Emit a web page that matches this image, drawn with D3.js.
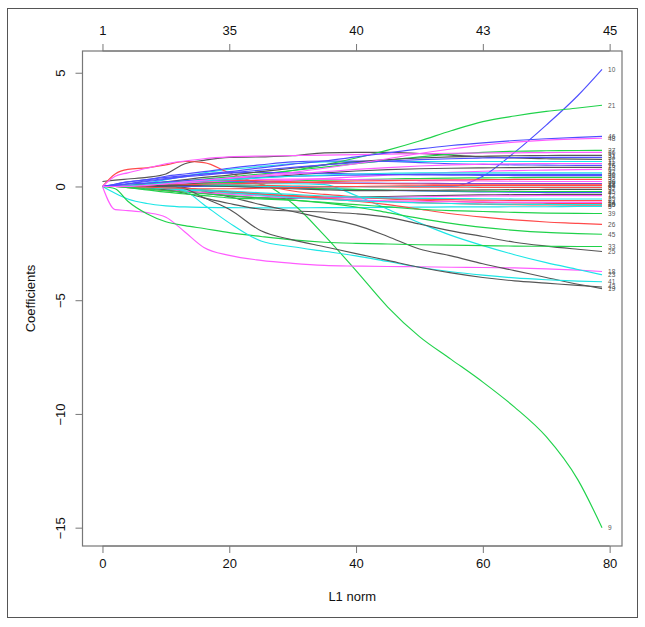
<!DOCTYPE html>
<html><head><meta charset="utf-8">
<script src="https://cdn.jsdelivr.net/npm/d3@7"></script>
<style>body{margin:0;background:#fff}svg{display:block}text{font-family:"Liberation Sans",Arial,sans-serif}</style>
</head><body>
<script>
// L1 norm grid (x) shared by all coefficient paths
const l1Norm = [0, 2, 4, 7, 10, 13, 16, 20, 25, 30, 35, 40, 45, 50, 55, 60, 65, 70, 75, 78.8];
// bottom / top axis ticks
const l1Ticks = [0, 20, 40, 60, 80];
const dfLabels = ["1", "35", "40", "43", "45"];
const yTicks = [-15, -10, -5, 0, 5];
// coefficient paths, variable k
const b1  = [0.22,0.28,0.33,0.4,0.55,1.0,1.15,1.28,1.3,1.35,1.48,1.5,1.5,1.45,1.38,1.3,1.25,1.22,1.2,1.19];
const b2  = [0,0,-0.05,-0.12,-0.18,-0.22,-0.26,-0.3,-0.35,-0.4,-0.45,-0.5,-0.53,-0.56,-0.58,-0.6,-0.61,-0.62,-0.62,-0.62];
const b3  = [0,0,0.02,0.06,0.1,0.12,0.15,0.18,0.22,0.25,0.28,0.3,0.33,0.35,0.37,0.38,0.39,0.4,0.4,0.4];
const b4  = [0,0,0.03,0.08,0.1,0.1,0.08,0.05,0,-0.05,-0.1,-0.14,-0.17,-0.2,-0.22,-0.24,-0.25,-0.26,-0.26,-0.26];
const b5  = [0,-0.3,-0.55,-0.75,-0.85,-0.9,-0.92,-0.93,-0.94,-0.94,-0.93,-0.93,-0.92,-0.91,-0.9,-0.9,-0.89,-0.89,-0.88,-0.88];
const b6  = [0,0,0,0.02,0.05,0.08,0.1,0.15,0.2,0.28,0.35,0.42,0.5,0.56,0.62,0.67,0.7,0.72,0.74,0.75];
const b7  = [0,0,0,-0.05,-0.12,-0.2,-0.3,-0.42,-0.5,-0.52,-0.5,-0.47,-0.44,-0.41,-0.39,-0.37,-0.36,-0.35,-0.35,-0.35];
const b8  = [0,0,0,0.05,0.08,0.1,0.1,0.08,0.05,0.02,0,-0.01,-0.02,-0.03,-0.03,-0.04,-0.04,-0.04,-0.04,-0.04];
const b9  = [0,0,0,0.03,0.08,0.12,0.15,0.18,0.1,-0.75,-2.15,-3.7,-5.3,-6.6,-7.6,-8.6,-9.7,-11.0,-12.9,-15];
const b10 = [0,0,0,0,0,0,0,0,0,0,0,0,0,0,0,0.45,1.5,2.7,4.0,5.15];
const b11 = [0,0,0.05,0.15,0.3,0.45,0.6,0.75,0.88,1.0,1.08,1.1,1.1,1.1,1.1,1.1,1.1,1.1,1.1,1.1];
const b12 = [0,0,0,-0.03,-0.08,-0.12,-0.18,-0.25,-0.35,-0.45,-0.5,-0.5,-0.48,-0.45,-0.43,-0.42,-0.41,-0.4,-0.4,-0.4];
const b13 = [0,0,0,0.02,0.05,0.1,0.18,0.28,0.4,0.5,0.6,0.68,0.74,0.78,0.8,0.82,0.83,0.84,0.84,0.84];
const b14 = [0,0.55,0.75,0.82,0.95,1.1,1.05,0.6,0.1,-0.2,-0.35,-0.45,-0.55,-0.6,-0.65,-0.7,-0.72,-0.74,-0.75,-0.75];
const b15 = [0,0,0,0,0.02,0.05,0.05,0.03,0,-0.05,-0.1,-0.13,-0.16,-0.18,-0.2,-0.21,-0.22,-0.22,-0.22,-0.22];
const b16 = [0,0.1,0.2,0.3,0.45,0.55,0.65,0.8,0.95,1.08,1.12,1.12,1.1,1.05,1.0,0.97,0.95,0.94,0.93,0.93];
const b17 = [0,0,0,0.02,0.05,0.05,0.04,0.02,0,-0.02,-0.02,-0.01,0,0.01,0.02,0.03,0.03,0.04,0.04,0.04];
const b18 = [0,-1.02,-1.06,-1.15,-1.35,-2.0,-2.68,-3.03,-3.25,-3.38,-3.47,-3.5,-3.52,-3.53,-3.55,-3.56,-3.58,-3.62,-3.68,-3.74];
const b19 = [0,0,0,0,0,-0.05,-0.2,-0.45,-0.8,-1.1,-1.4,-1.7,-2.2,-2.75,-3.05,-3.4,-3.7,-4.0,-4.3,-4.49];
const b20 = [0,0,0,-0.02,-0.06,-0.1,-0.15,-0.22,-0.32,-0.42,-0.52,-0.6,-0.66,-0.71,-0.75,-0.78,-0.8,-0.81,-0.82,-0.82];
const b21 = [0,0,0,0.03,0.08,0.15,0.22,0.32,0.5,0.7,0.95,1.25,1.6,2.0,2.45,2.85,3.1,3.3,3.45,3.57];
const b22 = [0,0,0.02,0.08,0.15,0.2,0.22,0.22,0.2,0.18,0.16,0.15,0.14,0.14,0.13,0.13,0.13,0.13,0.13,0.13];
const b23 = [0,0,0,0,0.02,0.05,0.08,0.1,0.12,0.12,0.08,-0.4,-1.0,-1.6,-2.15,-2.6,-3.0,-3.35,-3.65,-3.88];
const b24 = [0,0,-0.02,-0.08,-0.15,-0.22,-0.28,-0.35,-0.42,-0.5,-0.56,-0.6,-0.63,-0.65,-0.67,-0.68,-0.69,-0.7,-0.7,-0.7];
const b25 = [0,0,0,-0.05,-0.15,-0.3,-0.5,-0.75,-1.0,-1.08,-1.12,-1.2,-1.35,-1.65,-1.95,-2.2,-2.45,-2.62,-2.76,-2.86];
const b26 = [0,0,0,-0.03,-0.08,-0.12,-0.18,-0.25,-0.35,-0.45,-0.55,-0.65,-0.8,-1.0,-1.2,-1.35,-1.47,-1.56,-1.62,-1.67];
const b27 = [0,0,0.03,0.1,0.18,0.25,0.32,0.42,0.55,0.7,0.85,1.0,1.15,1.3,1.42,1.5,1.55,1.57,1.58,1.59];
const b28 = [0,0.1,0.2,0.3,0.4,0.48,0.55,0.6,0.62,0.6,0.58,0.55,0.53,0.51,0.5,0.49,0.48,0.48,0.48,0.48];
const b29 = [0,0,0,-0.02,-0.05,-0.1,-0.15,-0.2,-0.28,-0.35,-0.42,-0.47,-0.5,-0.52,-0.53,-0.54,-0.55,-0.55,-0.55,-0.55];
const b30 = [0,0,0.02,0.06,0.1,0.15,0.2,0.25,0.3,0.32,0.32,0.3,0.28,0.26,0.25,0.24,0.23,0.22,0.22,0.22];
const b31 = [0,0,0.03,0.1,0.2,0.3,0.4,0.5,0.65,0.8,0.95,1.08,1.18,1.25,1.3,1.33,1.35,1.36,1.37,1.37];
const b32 = [0,0,0,0.02,0.05,0.08,0.1,0.12,0.15,0.18,0.21,0.24,0.26,0.28,0.29,0.3,0.31,0.31,0.31,0.31];
const b33 = [0,-0.1,-0.65,-1.2,-1.55,-1.72,-1.85,-2.03,-2.2,-2.35,-2.45,-2.5,-2.53,-2.56,-2.58,-2.6,-2.62,-2.63,-2.64,-2.64];
const b34 = [0,0.05,0.12,0.22,0.32,0.42,0.5,0.6,0.72,0.84,0.95,1.05,1.12,1.18,1.22,1.25,1.27,1.28,1.28,1.28];
const b35 = [0,0,0,-0.05,-0.1,-0.15,-0.2,-0.28,-0.38,-0.48,-0.56,-0.63,-0.68,-0.72,-0.75,-0.77,-0.78,-0.79,-0.8,-0.8];
const b36 = [0,0.45,0.6,0.8,1.0,1.12,1.22,1.3,1.34,1.36,1.38,1.4,1.42,1.44,1.46,1.47,1.48,1.49,1.5,1.5];
const b37 = [0,0,0,0.02,0.05,0.05,0.03,0,-0.05,-0.1,-0.15,-0.18,-0.18,-0.17,-0.16,-0.15,-0.14,-0.13,-0.13,-0.13];
const b38 = [0,0,0,0.05,0.12,0.2,0.25,0.28,0.25,0.2,0.16,0.13,0.12,0.11,0.1,0.1,0.1,0.1,0.1,0.1];
const b39 = [0,0,-0.03,-0.1,-0.18,-0.25,-0.32,-0.4,-0.5,-0.6,-0.7,-0.8,-0.9,-1.0,-1.06,-1.1,-1.14,-1.17,-1.18,-1.19];
const b40 = [0,0.05,0.1,0.15,0.2,0.25,0.3,0.35,0.4,0.45,0.48,0.5,0.52,0.53,0.53,0.53,0.53,0.53,0.53,0.53];
const b41 = [0,0,0,0,-0.05,-0.2,-0.8,-1.6,-2.4,-2.65,-2.85,-3.05,-3.3,-3.55,-3.75,-3.9,-4.02,-4.1,-4.16,-4.19];
const b42 = [0,0,0.02,0.06,0.12,0.18,0.25,0.35,0.45,0.55,0.65,0.75,0.83,0.9,0.95,0.98,1.0,1.01,1.01,1.01];
const b43 = [0,0,0,0,0,-0.1,-0.5,-1.0,-1.95,-2.35,-2.65,-2.95,-3.25,-3.55,-3.8,-4.0,-4.15,-4.25,-4.35,-4.42];
const b44 = [0,0,0,-0.03,-0.06,-0.08,-0.1,-0.1,-0.08,-0.05,-0.02,0,0.02,0.03,0.04,0.05,0.05,0.05,0.05,0.05];
const b45 = [0,0,-0.05,-0.15,-0.25,-0.33,-0.4,-0.5,-0.55,-0.6,-0.72,-0.9,-1.15,-1.4,-1.62,-1.8,-1.93,-2.02,-2.07,-2.1];
const b46 = [0,0.05,0.12,0.25,0.35,0.45,0.55,0.65,0.82,0.98,1.12,1.3,1.48,1.65,1.8,1.92,2.02,2.1,2.16,2.2];
const b47 = [0,0,0.02,0.08,0.15,0.2,0.25,0.3,0.38,0.45,0.5,0.55,0.58,0.6,0.6,0.6,0.6,0.6,0.6,0.6];
const b48 = [0,0,0,0.05,0.12,0.2,0.28,0.38,0.5,0.62,0.8,1.0,1.22,1.45,1.65,1.82,1.95,2.04,2.09,2.12];
const coefPaths = [b1,b2,b3,b4,b5,b6,b7,b8,b9,b10,b11,b12,b13,b14,b15,b16,b17,b18,b19,b20,b21,b22,b23,b24,
  b25,b26,b27,b28,b29,b30,b31,b32,b33,b34,b35,b36,b37,b38,b39,b40,b41,b42,b43,b44,b45,b46,b47,b48];
// R palette 1:6 (black, red, green3, blue, cyan, magenta) as rendered
const palette = ["#555555", "#ff4a4a", "#1fd24a", "#4f4fff", "#1ce6e6", "#ff5cff"];

const W = 645, H = 627;
const box = {l: 82.5, r: 622, t: 51, b: 546};
const svg = d3.select("body").append("svg").attr("width", W).attr("height", H);

svg.append("rect").attr("x", 7.5).attr("y", 8.5).attr("width", 630).attr("height", 609)
  .attr("fill", "none").attr("stroke", "#555").attr("stroke-width", 1);

const xMax = d3.max(l1Norm), xMin = d3.min(l1Norm);
const allY = coefPaths.flat();
const yMin = d3.min(allY), yMax = d3.max(allY);
const xPad = (xMax - xMin) * 0.04, yPad = (yMax - yMin) * 0.04;
const x = d3.scaleLinear().domain([xMin - xPad, xMax + xPad]).range([box.l, box.r]);
const y = d3.scaleLinear().domain([yMin - yPad, yMax + yPad]).range([box.b, box.t]);

const g = svg.append("g");
const line = d3.line().x((d, i) => x(l1Norm[i])).y(d => y(d)).curve(d3.curveMonotoneX);
coefPaths.forEach((p, k) => {
  g.append("path").attr("d", line(p)).attr("fill", "none")
    .attr("stroke", palette[k % 6]).attr("stroke-width", 1.15);
});
// variable labels at the right end
coefPaths.forEach((p, k) => {
  svg.append("text").attr("x", x(xMax) + 6).attr("y", y(p[p.length - 1]) + 2.3)
    .attr("font-size", 6.5).attr("fill", "#555").text(k + 1);
});

// box
svg.append("rect").attr("x", box.l).attr("y", box.t).attr("width", box.r - box.l).attr("height", box.b - box.t)
  .attr("fill", "none").attr("stroke", "#777").attr("stroke-width", 1.2);

const axStyle = sel => {
  sel.select(".domain").attr("stroke", "#777");
  sel.selectAll(".tick line").attr("stroke", "#777");
  sel.selectAll("text").attr("font-size", 13).attr("fill", "#111")
    .style("font-family", '"Liberation Sans", Arial, sans-serif');
};
const xb = svg.append("g").attr("transform", `translate(0,${box.b})`)
  .call(d3.axisBottom(x).tickValues(l1Ticks).tickSize(7).tickPadding(6).tickSizeOuter(0));
xb.select(".domain").attr("d", `M${x(l1Ticks[0])},0H${x(l1Ticks[l1Ticks.length-1])}`);
axStyle(xb);
const xt = svg.append("g").attr("transform", `translate(0,${box.t})`)
  .call(d3.axisTop(x).tickValues(l1Ticks).tickFormat((d, i) => dfLabels[i]).tickSize(7).tickPadding(9).tickSizeOuter(0));
xt.select(".domain").attr("d", `M${x(l1Ticks[0])},0H${x(l1Ticks[l1Ticks.length-1])}`);
axStyle(xt);
const yl = svg.append("g").attr("transform", `translate(${box.l},0)`)
  .call(d3.axisLeft(y).tickValues(yTicks).tickSize(7).tickSizeOuter(0));
yl.select(".domain").attr("d", `M0,${y(yTicks[0])}V${y(yTicks[yTicks.length-1])}`);
axStyle(yl);
yl.selectAll(".tick text").attr("x", null).attr("dy", null).attr("text-anchor", "middle")
  .attr("transform", "translate(-22,0) rotate(-90)").attr("dy", "0.35em");

svg.append("text").attr("x", (box.l + box.r) / 2).attr("y", 601).attr("text-anchor", "middle")
  .attr("font-size", 13).attr("fill", "#111").text("L1 norm");
svg.append("text").attr("transform", `translate(35,${(box.t + box.b) / 2}) rotate(-90)`)
  .attr("text-anchor", "middle").attr("font-size", 13).attr("fill", "#111").text("Coefficients");
</script>
</body></html>
